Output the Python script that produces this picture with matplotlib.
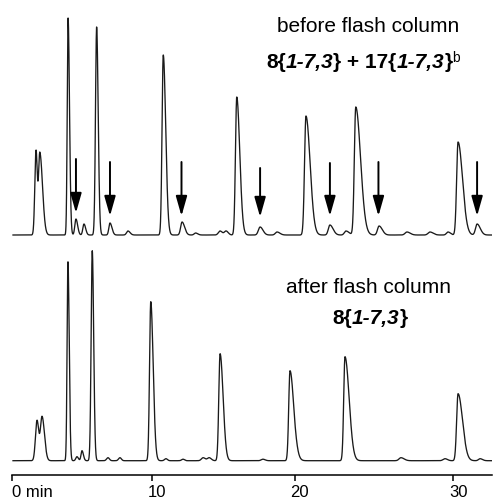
import numpy as np
import matplotlib
matplotlib.use("Agg")
import matplotlib.pyplot as plt
import matplotlib.transforms as mtransforms

# ---------------- data ----------------
# tick labels / tick times (minutes)
tick_times = [0, 10, 20, 30]
tick_labels = ["0 min", "10", "20", "30"]

# before flash column: retention time (min), height (a.u.), rise sigma, tail sigma (min)
before_rt = [1.73, 2.00, 4.01, 4.57, 5.14, 6.04, 6.99, 8.27, 10.77, 12.09, 13.04,
             14.76, 15.18, 15.93, 17.57, 18.76, 20.71, 22.22, 23.23, 23.85, 25.32,
             27.08, 28.53, 29.67, 30.30, 31.50]
before_h = [84, 82, 217, 16, 11, 208, 12, 4, 180, 13, 2,
            4, 4, 138, 8, 3, 119, 10, 4, 128, 9,
            3, 3, 3, 93, 11]
before_sl = [0.085, 0.09, 0.06, 0.08, 0.08, 0.08, 0.08, 0.10, 0.085, 0.10, 0.10,
             0.12, 0.12, 0.09, 0.12, 0.12, 0.09, 0.10, 0.10, 0.09, 0.10,
             0.12, 0.12, 0.10, 0.09, 0.10]
before_sr = [0.09, 0.19, 0.10, 0.12, 0.12, 0.11, 0.14, 0.15, 0.17, 0.18, 0.15,
             0.15, 0.15, 0.21, 0.20, 0.20, 0.26, 0.20, 0.20, 0.30, 0.20,
             0.20, 0.20, 0.15, 0.28, 0.20]

# after flash column
after_rt = [1.80, 2.16, 4.00, 4.64, 5.00, 5.73, 6.85, 7.70, 9.89, 10.96, 12.16,
            13.57, 13.99, 14.76, 17.77, 19.67, 23.17, 26.70, 29.48, 30.30, 31.69]
after_h = [40, 44, 199, 4, 10, 210, 3, 3, 159, 2, 1.5,
           3, 3, 107, 1.5, 90, 104, 3, 2, 67, 2]
after_sl = [0.11, 0.12, 0.06, 0.08, 0.07, 0.08, 0.10, 0.10, 0.085, 0.10, 0.10,
            0.12, 0.12, 0.09, 0.12, 0.09, 0.08, 0.12, 0.12, 0.09, 0.10]
after_sr = [0.12, 0.17, 0.09, 0.10, 0.10, 0.10, 0.10, 0.10, 0.17, 0.10, 0.10,
            0.15, 0.15, 0.21, 0.15, 0.26, 0.26, 0.20, 0.15, 0.28, 0.15]

# arrows marking the impurity (17) peaks in the upper trace
arrow_rt = [4.57, 6.99, 12.05, 17.57, 22.22, 25.28, 31.50]
arrow_top = [76, 73, 73, 67, 72, 73, 73]
arrow_tip = [22, 19, 19, 18, 19, 19, 19]

# ---------------- layout ----------------
W, H = 493, 502
fig = plt.figure(figsize=(W / 100, H / 100), dpi=100)
plt.rcParams['font.family'] = ['Liberation Sans', 'DejaVu Sans']

ax_left, ax_right, ax_bottom_px = 11.7, 492.0, 475.7
ax = fig.add_axes([ax_left / W, (H - ax_bottom_px) / H,
                   (ax_right - ax_left) / W, ax_bottom_px / H])

# the printed time axis is not uniform: piecewise linear scale
anchor_t = np.array([-100.0, 0.0, 10.0, 20.0, 30.0, 100.0])
anchor_p = np.array([11.7 - 1406.0, 11.7, 152.3, 294.7, 453.3, 453.3 + 1110.2])


def fwd(t):
    return np.interp(t, anchor_t, anchor_p)


def inv(p):
    return np.interp(p, anchor_p, anchor_t)


ax.set_xscale('function', functions=(fwd, inv))
ax.set_xlim(0, float(inv(ax_right)))
ax.set_ylim(0, ax_bottom_px)

t = np.linspace(float(inv(13.0)), float(inv(491.5)), 6000)


def trace(rt, h, sl, sr):
    y = np.zeros_like(t)
    for r, a, s1, s2 in zip(rt, h, sl, sr):
        s = np.where(t < r, s1, s2)
        y += a * np.exp(-0.5 * ((t - r) / s) ** 2)
    return y


top_base = ax_bottom_px - 236.0
bot_base = ax_bottom_px - 461.7
lc = '#1a1a1a'
ax.plot(t, top_base + trace(before_rt, before_h, before_sl, before_sr), color=lc, lw=0.95)
ax.plot(t, bot_base + trace(after_rt, after_h, after_sl, after_sr), color=lc, lw=0.95)

for x, y0, y1 in zip(arrow_rt, arrow_top, arrow_tip):
    ax.annotate('', xy=(x, top_base + y1), xytext=(x, top_base + y0),
                arrowprops=dict(arrowstyle='-|>,head_length=0.6,head_width=0.17',
                                mutation_scale=20, lw=1.4, color='black',
                                shrinkA=0, shrinkB=0))

for s in ['top', 'right', 'left']:
    ax.spines[s].set_visible(False)
ax.spines['bottom'].set_linewidth(1.1)
ax.yaxis.set_visible(False)
ax.set_xticks(tick_times)
ax.set_xticklabels(tick_labels)
ax.tick_params(axis='x', direction='out', length=4, width=1.1, pad=2.5,
               labelsize=12, colors='black')
ax.minorticks_off()
ax.patch.set_alpha(0)

for i, lab in enumerate(ax.get_xticklabels()):
    if i == 0:
        lab.set_horizontalalignment('left')
    else:
        lab.set_transform(lab.get_transform() +
                          mtransforms.ScaledTranslation(5 / 100, 0, fig.dpi_scale_trans))

# ---------------- text ----------------
fig.text(368 / W, 1 - 31.7 / H, 'before flash column', ha='center', va='baseline', fontsize=15)
fig.text(369 / W, 1 - 292.7 / H, 'after flash column', ha='center', va='baseline', fontsize=15)

renderer = fig.canvas.get_renderer()


def rich(pieces, xc, yb):
    arts = []
    for txt, w, st, sz, dy in pieces:
        a = fig.text(0, 0, txt, fontweight=w, fontstyle=st, fontsize=sz,
                     ha='left', va='baseline')
        arts.append((a, dy))
    widths = [a.get_window_extent(renderer).width for a, _ in arts]
    x = xc - sum(widths) / 2
    for (a, dy), wd in zip(arts, widths):
        a.set_position((x / W, 1 - (yb - dy) / H))
        x += wd


rich([('8{', 'bold', 'normal', 15, 0), ('1-7,3', 'bold', 'italic', 15, 0),
      ('} + 17{', 'bold', 'normal', 15, 0), ('1-7,3', 'bold', 'italic', 15, 0),
      ('}', 'bold', 'normal', 15, 0), ('b', 'normal', 'normal', 10, 6)], 363, 68)
rich([('8{', 'bold', 'normal', 15, 0), ('1-7,3', 'bold', 'italic', 15, 0),
      ('}', 'bold', 'normal', 15, 0)], 370, 324)

fig.savefig('out.png', dpi=100)
